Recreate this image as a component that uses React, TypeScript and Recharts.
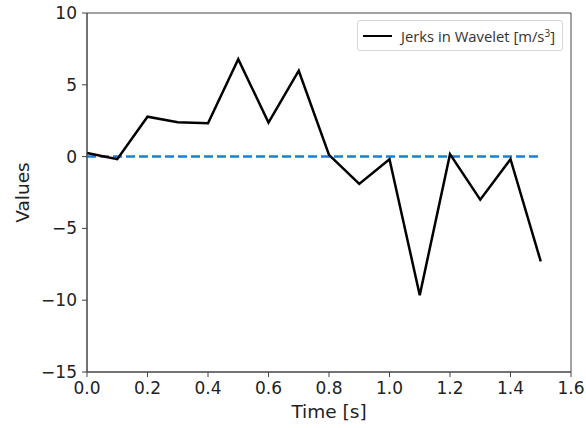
import React from "react";
import {
  LineChart,
  Line,
  XAxis,
  YAxis,
  ReferenceLine,
  ReferenceArea,
} from "recharts";

const times = [0.0, 0.1, 0.2, 0.3, 0.4, 0.5, 0.6, 0.7, 0.8, 0.9, 1.0, 1.1, 1.2, 1.3, 1.4, 1.5];
const jerks = [0.25, -0.18, 2.78, 2.39, 2.32, 6.78, 2.37, 5.98, 0.12, -1.9, -0.18, -9.65, 0.17, -3.0, -0.18, -7.3];
const xTicks = [0, 0.2, 0.4, 0.6, 0.8, 1.0, 1.2, 1.4, 1.6];
const yTicks = [-15, -10, -5, 0, 5, 10];
const baselineValue = 0;
const seriesName = "Jerks in Wavelet [m/s";

const data = times.map((t, i) => ({ t, jerk: jerks[i] }));

const FONT = "'DejaVu Sans', sans-serif";
const LEGEND_FONT = "'Open Sans', 'Noto Sans', sans-serif";
const AXIS = "#444";

const fmtY = (v: number) => String(v).replace("-", "\u2212");
const fmtX = (v: number) => v.toFixed(1);

const LegendBox = () => (
  <div
    style={{
      position: "absolute",
      left: 357,
      top: 20,
      width: 206,
      height: 31,
      border: "1px solid #d6d6d6",
      borderRadius: 3,
      background: "#fff",
      display: "flex",
      alignItems: "center",
      boxSizing: "border-box",
      padding: "0 0 0 5px",
      fontFamily: LEGEND_FONT,
      fontSize: 14.8,
      color: "#333",
      whiteSpace: "nowrap",
    }}
  >
    <span style={{ display: "inline-block", width: 29, height: 0, borderTop: "2.5px solid #000", marginRight: 9 }} />
    <span>
      {seriesName}
      <span style={{ fontSize: 10, position: "relative", top: -5 }}>3</span>]
    </span>
  </div>
);

export default function App() {
  return (
    <div style={{ position: "absolute", left: 0, top: 0, width: 586, height: 428, background: "#fff" }}>
      <LineChart
        width={586}
        height={428}
        data={data}
        margin={{ top: 13, right: 15, left: 0, bottom: 16 }}
      >
        <XAxis
          dataKey="t"
          type="number"
          domain={[0, 1.6]}
          ticks={xTicks}
          tickFormatter={fmtX}
          height={40}
          tickSize={5}
          tickMargin={5}
          stroke={AXIS}
          tick={{ fill: "#222", fontSize: 17, fontFamily: FONT }}
          label={{ value: "Time [s]", position: "insideBottom", offset: -6, fill: "#222", fontSize: 18.5, fontFamily: FONT }}
        />
        <YAxis
          type="number"
          domain={[-15, 10]}
          ticks={yTicks}
          tickFormatter={fmtY}
          width={87}
          tickSize={5}
          tickMargin={5}
          stroke={AXIS}
          tick={{ fill: "#222", fontSize: 17, fontFamily: FONT }}
          label={{ value: "Values", angle: -90, position: "insideLeft", offset: 22, fill: "#222", fontSize: 18.5, fontFamily: FONT, style: { textAnchor: "middle" } }}
        />
        <ReferenceArea x1={0} x2={1.6} y1={-15} y2={10} fill="none" stroke={AXIS} strokeWidth={1} ifOverflow="visible" />
        <ReferenceLine
          segment={[
            { x: times[0], y: baselineValue },
            { x: times[times.length - 1], y: baselineValue },
          ]}
          stroke="#1a7fd4"
          strokeWidth={2.5}
          strokeDasharray="9 4"
        />
        <Line
          dataKey="jerk"
          stroke="#000"
          strokeWidth={2.5}
          dot={false}
          isAnimationActive={false}
          strokeLinejoin="miter"
        />
      </LineChart>
      <LegendBox />
    </div>
  );
}
